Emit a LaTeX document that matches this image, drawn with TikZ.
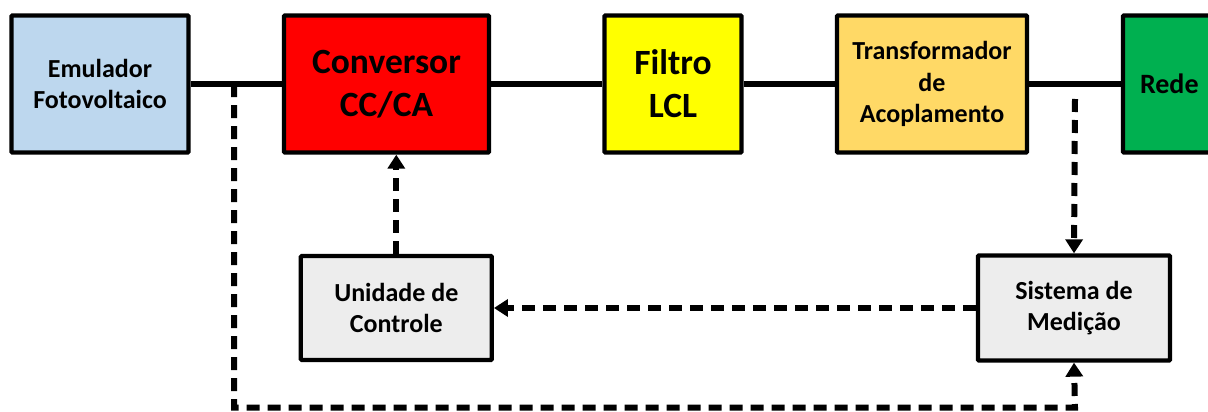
\documentclass[tikz,border=0pt]{standalone}
\usepackage{fontspec}
\setmainfont{Carlito}
\usetikzlibrary{arrows.meta}
\definecolor{cblue}{HTML}{BDD7EE}
\definecolor{cred}{HTML}{FF0000}
\definecolor{cyel}{HTML}{FFFF00}
\definecolor{corange}{HTML}{FFD966}
\definecolor{cgreen}{HTML}{00B050}
\definecolor{cgray}{HTML}{EDEDED}
\tikzset{
  blk/.style={draw=black, line width=4.3pt, rounded corners=1pt, inner sep=0pt, align=center,
    font=\bfseries\fontsize{26}{31.5}\selectfont},
  bigtxt/.style={font=\bfseries\fontsize{35.5}{43}\selectfont},
  mainline/.style={line width=5.5pt},
  dashline/.style={line width=6pt, dash pattern=on 13pt off 8pt, -{Triangle[length=14pt,width=17pt]}}
}
\begin{document}
\begin{tikzpicture}[x=1pt,y=-1pt]
\useasboundingbox (0,0) rectangle (1208,412);
\node[blk, fill=cblue, minimum width=177pt, minimum height=137pt] (emu) at (100,84) {Emulador\\Fotovoltaico};
\node[blk, bigtxt, fill=cred, minimum width=205pt, minimum height=137pt] (conv) at (386.5,84) {Conversor\\CC/CA};
\node[blk, bigtxt, fill=cyel, minimum width=137pt, minimum height=137pt] (filt) at (673,84) {Filtro\\LCL};
\node[blk, fill=corange, minimum width=190pt, minimum height=137pt] (trafo) at (932,84) {Transformador\\de\\Acoplamento};
\node[blk, fill=cgreen, minimum width=110pt, minimum height=137pt, text width=76pt, align=left,
  font=\bfseries\fontsize{28}{34}\selectfont] (rede) at (1178,84) {Rede};
\node[blk, fill=cgray, minimum width=191pt, minimum height=104pt] (uc) at (396.3,308) {Unidade de\\Controle};
\node[blk, fill=cgray, minimum width=192pt, minimum height=105pt] (sm) at (1074,308) {Sistema de\\Medição};
\coordinate (tap1) at (234,84);
\coordinate (tap2) at (1075,99);
\coordinate (bl) at (234,407.5);
\coordinate (br) at (1075,407.5);
\draw[mainline] (emu.east) -- (conv.west);
\draw[mainline] (conv.east) -- (filt.west);
\draw[mainline] (filt.east) -- (trafo.west);
\draw[mainline] (trafo.east) -- (rede.west);
\draw[dashline] (tap2) -- (sm.north);
\draw[dashline] (sm.west) -- (uc.east);
\draw[dashline] (uc.north) -- (uc.north |- conv.south);
\draw[dashline] (tap1) -- (bl) -- (br) -- (sm.south);
\end{tikzpicture}
\end{document}
